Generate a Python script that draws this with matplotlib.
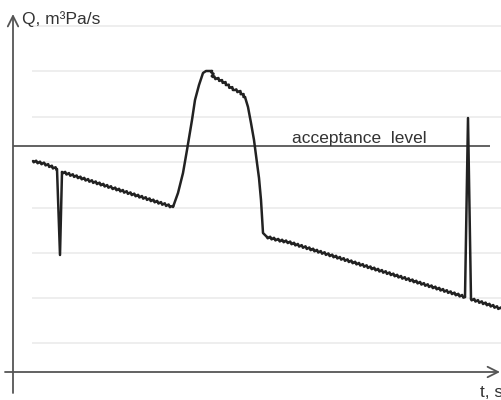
import matplotlib
matplotlib.use("Agg")
import matplotlib.pyplot as plt

# curve: t (s) and Q (arbitrary units above the t axis)
t = [20, 32, 44, 47, 49, 100, 160, 165, 170, 174, 179, 182, 186, 190, 193,
     199, 200, 205, 212, 217, 222, 227, 232, 235, 238, 241, 244, 246, 248,
     250, 254, 265, 275, 452, 455, 458, 489]
q = [211, 208, 203, 117, 200, 184, 165, 179, 199, 222, 252, 272, 287, 299, 301,
     301, 295, 293, 289, 285, 282, 280, 275, 265, 249, 232, 209, 194, 172,
     139, 135, 132, 130, 75, 254, 73, 63]

# which stretches of the curve carry the small ripple (index ranges into t/q)
rippled = [(0, 2), (4, 6), (15, 22), (30, 33), (35, 36)]
smooth = [(2, 4), (6, 15), (22, 30), (33, 35)]

grid_levels = [29, 74, 119, 164, 210, 255, 301, 346]
acceptance = 226
label_q = "Q, m\u00b3Pa/s"
label_t = "t, s"
label_acc = "acceptance  level"

plt.rcParams['font.family'] = ['Liberation Sans', 'DejaVu Sans']

fig = plt.figure(figsize=(5.02, 4.0), dpi=100)
ax = fig.add_axes([0, 0, 1, 1])
ax.set_xlim(-13, 489)
ax.set_ylim(-28, 372)
ax.axis('off')

# light grid
ax.hlines(grid_levels, 19, 489, color='#ebebeb', lw=1.2, zorder=1)

# acceptance level
ax.hlines(acceptance, 0, 477, color='#555555', lw=1.3, zorder=2)
ax.text(279, acceptance + 3, label_acc, fontsize=12.5, color='#333333',
        ha='left', va='baseline')

# axes with arrows
arrow = dict(arrowstyle='->, head_length=0.5, head_width=0.25',
             color='#555555', lw=1.3, mutation_scale=15, shrinkA=0, shrinkB=0)
ax.annotate('', xy=(0, 358), xytext=(0, -21), arrowprops=arrow)
ax.annotate('', xy=(487, 0), xytext=(-8, 0), arrowprops=arrow)
ax.text(9, 348, label_q, fontsize=12.5, color='#333333', ha='left', va='baseline')
ax.text(467, -25, label_t, fontsize=12.5, color='#333333', ha='left', va='baseline')

# flow curve
for a, b in smooth:
    ax.plot(t[a:b + 1], q[a:b + 1], color='#222222', lw=1.8, zorder=3,
            solid_capstyle='round', solid_joinstyle='round')
for a, b in rippled:
    line, = ax.plot(t[a:b + 1], q[a:b + 1], color='#222222', lw=1.8, zorder=3,
                    solid_capstyle='round')
    line.set_sketch_params(scale=1.1, length=4, randomness=1)

fig.savefig('out.png', dpi=100)
